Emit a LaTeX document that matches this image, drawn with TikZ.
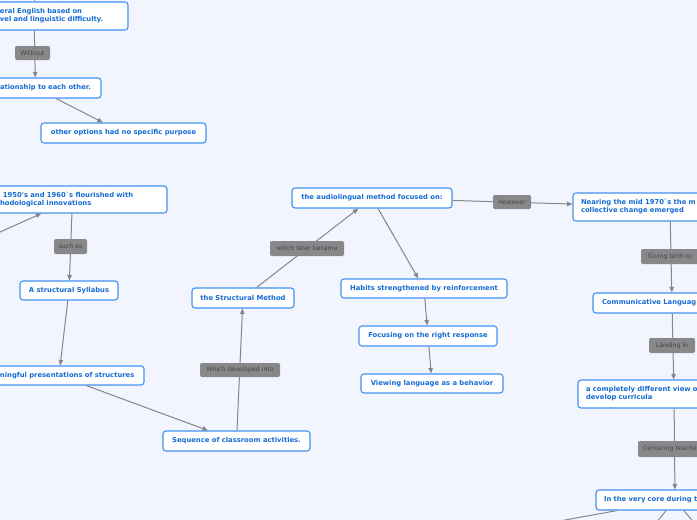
\documentclass[tikz,border=0pt]{standalone}
\usepackage{fontspec}
\usetikzlibrary{arrows.meta}

\newfontfamily\mapfont{DejaVu Sans}
\newcommand\topicfont{\mapfont\bfseries\fontsize{6.8}{8}\selectfont}
\newcommand\linkfont{\mapfont\fontsize{6.2}{7}\selectfont}
\newcommand\cuttext[2]{\hspace*{#1}\makebox[0pt][l]{#2}}

\definecolor{paper}{RGB}{242,245,254}
\definecolor{topicblue}{RGB}{64,146,240}
\definecolor{topictext}{RGB}{22,108,212}
\definecolor{linkgrey}{RGB}{136,136,138}
\definecolor{linktext}{RGB}{68,68,70}
\definecolor{conngrey}{RGB}{134,134,138}

\begin{document}
\begin{tikzpicture}[x=1pt,y=-1pt,
    >={Triangle[length=5.5pt,width=4.5pt]},
    topic/.style={draw=topicblue, fill=white, line width=1.1pt, rounded corners=3pt,
        text=topictext, font=\topicfont, inner xsep=8pt, inner ysep=2pt, minimum height=19pt},
    cut/.style={topic, align=left, text width=#1},
    link/.style={fill=linkgrey, text=linktext, font=\linkfont, rounded corners=2pt,
        inner xsep=3pt, inner ysep=2pt, minimum height=14pt},
    conn/.style={draw=conngrey, line width=1pt}]
    \useasboundingbox (0,0) rectangle (697,520);
    \clip (0,0) rectangle (697,520);
    \fill[paper] (0,0) rectangle (697,520);

    % Branch at the top left
    \node[cut=172pt, minimum height=28pt] (english) at (34,16)
        {\cuttext{52pt}{eral English based on}\\\cuttext{52pt}{vel and linguistic difficulty.}};
    \node[cut=115pt, minimum height=20pt] (relation) at (35.5,88)
        {\cuttext{22pt}{ationship to each other.}};
    \node[topic, minimum width=165pt, minimum height=20pt] (options) at (123.5,133)
        {other options had no specific purpose};

    % Structural branch
    \node[cut=173pt, minimum height=27pt] (flourish) at (72.5,199.5)
        {\cuttext{17pt}{1950\textquotesingle s and 1960\textasciigrave s flourished with}\\\cuttext{14pt}{hodological innovations}};
    \node[topic, minimum width=98pt] (syllabus) at (69,290.5) {A structural Syllabus};
    \node[cut=154pt] (meaning) at (59,375.5)
        {\cuttext{18pt}{ningful presentations of structures}};
    \node[topic, minimum width=147pt, minimum height=20pt] (sequence) at (236.5,441)
        {Sequence of classroom activities.};
    \node[topic, minimum width=102pt, minimum height=20pt] (structural) at (243,298)
        {the Structural Method};

    % Audiolingual branch
    \node[topic, minimum width=160pt, minimum height=20pt] (audio) at (372,198)
        {the audiolingual method focused on:};
    \node[topic, minimum width=166pt] (habits) at (424,288.5)
        {Habits strengthened by reinforcement};
    \node[topic, minimum width=138pt, minimum height=20pt] (focus) at (428,336)
        {Focusing on the right response};
    \node[topic, minimum width=142pt] (viewing) at (432,383.5)
        {Viewing language as a behavior};

    % Communicative branch
    \node[cut=178pt, minimum height=28pt] (nearing) at (670,207)
        {Nearing the mid 1970\textasciigrave s the m\\collective change emerged};
    \node[cut=142pt, minimum height=20pt] (clt) at (672,303)
        {\cuttext{1pt}{Communicative Languag}};
    \node[cut=176pt, minimum height=28pt] (view) at (674,394)
        {a completely different view o\\develop curricula};
    \node[cut=142pt, minimum height=20pt] (core) at (675,500)
        {In the very core during t};

    % Ends outside the picture
    \coordinate (above) at (34,-40);
    \coordinate (leftin) at (-60,259);
    \coordinate (down1) at (455,540);
    \coordinate (down2) at (640,542);
    \coordinate (down3) at (710,542);

    % Connectors
    \draw[conn] (above) -- (english);
    \draw[conn,->] (english) -- (relation);
    \draw[conn,->] (relation) -- (options);
    \draw[conn,->] (leftin) -- (flourish);
    \draw[conn,->] (flourish) -- (syllabus);
    \draw[conn,->] (syllabus) -- (meaning);
    \draw[conn,->] (meaning) -- (sequence);
    \draw[conn,->] (sequence) -- (structural);
    \draw[conn,->] (structural) -- (audio);
    \draw[conn,->] (audio) -- (habits);
    \draw[conn,->] (habits) -- (focus);
    \draw[conn,->] (focus) -- (viewing);
    \draw[conn,->] (audio) -- (nearing);
    \draw[conn,->] (nearing) -- (clt);
    \draw[conn,->] (clt) -- (view);
    \draw[conn,->] (view) -- (core);
    \draw[conn,->] (core) -- (down1);
    \draw[conn,->] (core) -- (down2);
    \draw[conn,->] (core) -- (down3);

    % Link labels
    \node[link, minimum width=35pt] (without) at (32.5,53) {Without};
    \node[link, minimum width=33pt, minimum height=15pt] (suchas) at (70.5,246.5) {such as};
    \node[link, minimum width=80pt] (developed) at (240,370) {Which developed into};
    \node[link, minimum width=74pt, minimum height=15pt] (later) at (307,248.5) {which later became};
    \node[link, minimum width=38pt] (however) at (512,202) {However};
    \node[link, minimum width=58pt, minimum height=15pt] (giving) at (670,256.5) {Giving birth to};
    \node[link, minimum width=46pt, minimum height=15pt] (landing) at (672,345.5) {Landing in};
    \node[link, text width=68pt, align=left, minimum height=16pt] (centering) at (675,449)
        {\cuttext{2pt}{Centering teache}};
\end{tikzpicture}
\end{document}
